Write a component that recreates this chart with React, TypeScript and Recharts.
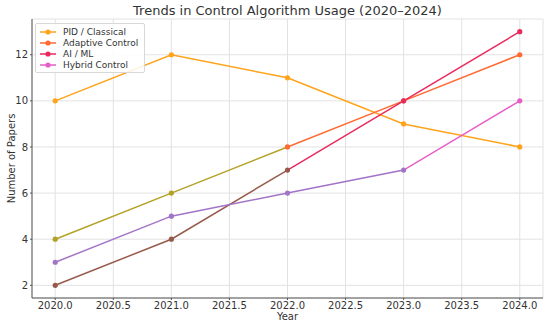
import React from 'react';
import { LineChart, Line, XAxis, YAxis, CartesianGrid } from 'recharts';

const years = [2020, 2021, 2022, 2023, 2024];
const pid = [10, 12, 11, 9, 8];
const adaptive = [4, 6, 8, 10, 12];
const aiml = [2, 4, 7, 10, 13];
const hybrid = [3, 5, 6, 7, 10];
const xTicks = [2020, 2020.5, 2021, 2021.5, 2022, 2022.5, 2023, 2023.5, 2024];
const yTicks = [2, 4, 6, 8, 10, 12];

const series = [
  { key: 'pid', name: 'PID / Classical', values: pid, color: '#ffa31a', low: '#ffa31a', lineBreak: 2020, dotBreak: 2020 },
  { key: 'adaptive', name: 'Adaptive Control', values: adaptive, color: '#ff6a33', low: '#b3a126', lineBreak: 2022, dotBreak: 2022 },
  { key: 'aiml', name: 'AI / ML', values: aiml, color: '#ea2a5e', low: '#96594b', lineBreak: 2022, dotBreak: 2022.5 },
  { key: 'hybrid', name: 'Hybrid Control', values: hybrid, color: '#e85cc8', low: '#a374c6', lineBreak: 2023, dotBreak: 2023.5 },
];

const data = years.map((y, i) => {
  const row: any = { year: y };
  series.forEach((s) => (row[s.key] = s.values[i]));
  return row;
});

const FONT = '"DejaVu Sans", sans-serif';
const TEXT = '#333333';

export default function App() {
  const x0 = years[0];
  const x1 = years[years.length - 1];
  return (
    <div style={{ position: 'absolute', left: 0, top: 0, width: 550, height: 324, background: '#fff', fontFamily: FONT }}>
      <LineChart width={550} height={324} data={data} margin={{ top: 19, right: 7, left: 0, bottom: 0 }}>
        <defs>
          {series.map((s) => {
            const f = (s.lineBreak - x0) / (x1 - x0);
            return (
              <linearGradient key={s.key} id={'g-' + s.key} x1="0" y1="0" x2="1" y2="0">
                <stop offset={f} stopColor={s.low} />
                <stop offset={f} stopColor={s.color} />
              </linearGradient>
            );
          })}
        </defs>
        <CartesianGrid stroke="#e2e2e2" strokeWidth={1} />
        <XAxis
          dataKey="year"
          type="number"
          domain={[2019.8, 2024.2]}
          ticks={xTicks}
          tickFormatter={(v: number) => v.toFixed(1)}
          height={26}
          tickSize={2}
          tickMargin={2}
          stroke="#555"
          tick={{ fill: TEXT, fontSize: 10, fontFamily: FONT }}
          label={{ value: 'Year', position: 'insideBottom', offset: 4, fill: TEXT, fontSize: 10, fontFamily: FONT }}
          allowDataOverflow
        />
        <YAxis
          type="number"
          domain={[1.45, 13.55]}
          ticks={yTicks}
          width={32}
          tickSize={2}
          tickMargin={2}
          stroke="#555"
          tick={{ fill: TEXT, fontSize: 10, fontFamily: FONT }}
          allowDataOverflow
          label={(props: any) => {
            const vb = props.viewBox || {};
            const cy = (vb.y || 0) + (vb.height || 0) / 2;
            return (
              <text x={11} y={cy} transform={`rotate(-90, 11, ${cy})`} textAnchor="middle" dominantBaseline="central" fill={TEXT} fontSize={10} fontFamily={FONT}>
                Number of Papers
              </text>
            );
          }}
        />
        {series.map((s) => (
          <Line
            key={s.key}
            dataKey={s.key}
            name={s.name}
            type="linear"
            stroke={s.lineBreak > x0 ? `url(#g-${s.key})` : s.color}
            strokeWidth={1.5}
            isAnimationActive={false}
            dot={(p: any) => (
              <circle
                key={p.index}
                cx={p.cx}
                cy={p.cy}
                r={2.6}
                fill={p.payload.year < s.dotBreak ? s.low : s.color}
                stroke="none"
              />
            )}
            activeDot={false}
          />
        ))}
      </LineChart>
      <div
        style={{
          position: 'absolute',
          left: 32,
          width: 511,
          top: 1,
          textAlign: 'center',
          fontSize: 13,
          lineHeight: '19px',
          color: TEXT,
        }}
      >
        Trends in Control Algorithm Usage (2020–2024)
      </div>
      <div
        style={{
          position: 'absolute',
          left: 35,
          top: 23,
          padding: '2px 6px 2px 4px',
          border: '1px solid #d8d8d8',
          borderRadius: 2,
          background: 'rgba(255,255,255,0.85)',
          fontSize: 9,
          color: TEXT,
        }}
      >
        {series.map((s) => (
          <div key={s.key} style={{ display: 'flex', alignItems: 'center', height: 11 }}>
            <svg width={16} height={8} style={{ marginRight: 7 }}>
              <line x1={0} y1={4} x2={16} y2={4} stroke={s.color} strokeWidth={1.5} />
              <circle cx={8} cy={4} r={2.6} fill={s.color} />
            </svg>
            <span>{s.name}</span>
          </div>
        ))}
      </div>
    </div>
  );
}
